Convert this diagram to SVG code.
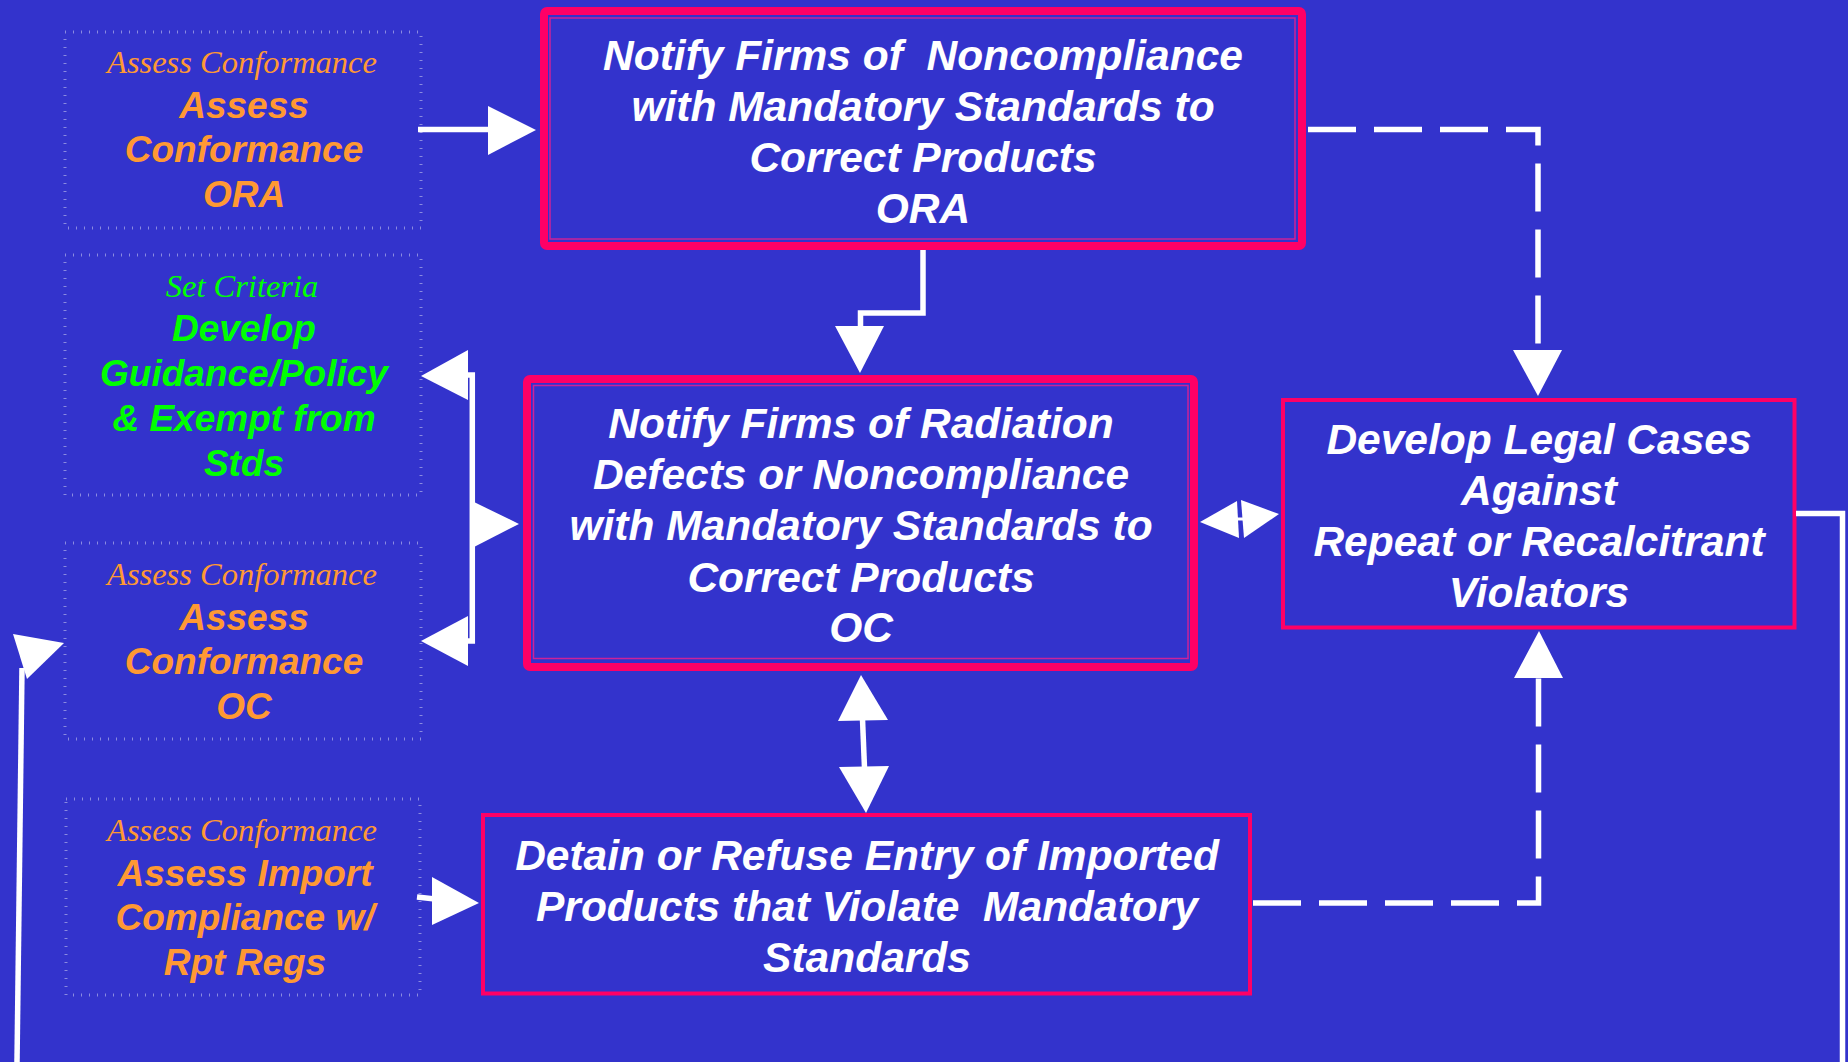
<svg xmlns="http://www.w3.org/2000/svg" width="1848" height="1062" viewBox="0 0 1848 1062">
<style>
.dot{fill:none;stroke:#8A8AE0;stroke-width:3;stroke-dasharray:1 7}
.hd{font-family:"Liberation Serif","Times New Roman",serif;font-style:italic;font-size:32.5px;text-anchor:middle}
.lt{font-family:"Liberation Sans",Arial,sans-serif;font-weight:bold;font-style:italic;font-size:37px;text-anchor:middle}
.mt{font-family:"Liberation Sans",Arial,sans-serif;font-weight:bold;font-style:italic;font-size:42.5px;text-anchor:middle;fill:#FFFFFF}
.or{fill:#FF9933}
.gr{fill:#00FF00}
.box{fill:none;stroke:#FF0066;stroke-width:8}
.inner{fill:none;stroke:#CC2299;stroke-width:1.5}
.box2{fill:none;stroke:#FF0066;stroke-width:4}
.ln{fill:none;stroke:#FFFFFF;stroke-width:5.5}
.dash{fill:none;stroke:#FFFFFF;stroke-width:5.5;stroke-dasharray:48 18}
.ah{fill:#FFFFFF}
</style>
<rect x="0" y="0" width="1848" height="1062" fill="#3333CC"/>

<g id="n-assess-ora">
<rect class="dot" x="65" y="32" width="356" height="196"/>
<text class="hd or" x="242" y="73">Assess Conformance</text>
<text class="lt or" x="244" y="118">Assess</text>
<text class="lt or" x="244" y="162">Conformance</text>
<text class="lt or" x="244" y="207">ORA</text>
</g>

<g id="n-set-criteria">
<rect class="dot" x="65" y="255" width="356" height="240"/>
<text class="hd gr" x="242" y="297">Set Criteria</text>
<text class="lt gr" x="244" y="341">Develop</text>
<text class="lt gr" x="244" y="386">Guidance/Policy</text>
<text class="lt gr" x="244" y="431">&amp; Exempt from</text>
<text class="lt gr" x="244" y="476">Stds</text>
</g>

<g id="n-assess-oc">
<rect class="dot" x="65" y="543" width="356" height="196"/>
<text class="hd or" x="242" y="585">Assess Conformance</text>
<text class="lt or" x="244" y="630">Assess</text>
<text class="lt or" x="244" y="674">Conformance</text>
<text class="lt or" x="244" y="719">OC</text>
</g>

<g id="n-assess-import">
<rect class="dot" x="66" y="799" width="354" height="196"/>
<text class="hd or" x="242" y="841">Assess Conformance</text>
<text class="lt or" x="245" y="886">Assess Import</text>
<text class="lt or" x="245" y="930">Compliance w/</text>
<text class="lt or" x="245" y="975">Rpt Regs</text>
</g>

<g id="n-notify-ora">
<rect class="box" x="544" y="11" width="758" height="235" rx="3"/>
<rect class="inner" x="550" y="18" width="745" height="221"/>
<text class="mt" x="923" y="70" xml:space="preserve">Notify Firms of  Noncompliance</text>
<text class="mt" x="923" y="121">with Mandatory Standards to</text>
<text class="mt" x="923" y="172">Correct Products</text>
<text class="mt" x="923" y="223">ORA</text>
</g>

<g id="n-notify-oc">
<rect class="box" x="527" y="379" width="667" height="288" rx="3"/>
<rect class="inner" x="533.5" y="385.5" width="654.5" height="273"/>
<text class="mt" x="861" y="438">Notify Firms of Radiation</text>
<text class="mt" x="861" y="489">Defects or Noncompliance</text>
<text class="mt" x="861" y="540">with Mandatory Standards to</text>
<text class="mt" x="861" y="592">Correct Products</text>
<text class="mt" x="861" y="642">OC</text>
</g>

<g id="n-legal">
<rect class="box2" x="1283" y="400" width="511.5" height="227.5"/>
<text class="mt" x="1539" y="454">Develop Legal Cases</text>
<text class="mt" x="1539" y="505">Against</text>
<text class="mt" x="1539" y="556">Repeat or Recalcitrant</text>
<text class="mt" x="1539" y="607">Violators</text>
</g>

<g id="n-detain">
<rect class="box2" x="483" y="815" width="767" height="178.5"/>
<text class="mt" x="867" y="870">Detain or Refuse Entry of Imported</text>
<text class="mt" x="867" y="921" xml:space="preserve">Products that Violate  Mandatory</text>
<text class="mt" x="867" y="972">Standards</text>
</g>

<g id="connectors">
<line class="ln" x1="418" y1="129.5" x2="490" y2="129.5"/>
<polygon class="ah" points="488,106 536,130 488,155"/>

<path class="ln" d="M923,250 V313 H860.5 V327"/>
<polygon class="ah" points="835,326 884,326 860,373"/>

<path class="ln" d="M466,375 H472.3 V641 H466"/>
<polygon class="ah" points="421,376 468,350 468,400"/>
<polygon class="ah" points="421,641 468,616 468,666"/>
<polygon class="ah" points="474,502 519,524 474,547"/>

<polygon class="ah" points="1200,522 1237,501 1239,538"/>
<polygon class="ah" points="1241,500 1279,514 1244,538"/>
<line x1="1237" y1="519" x2="1243" y2="519" stroke="#FFFFFF" stroke-width="3"/>

<polygon class="ah" points="861,675 838,721 888,720"/>
<line class="ln" x1="862.5" y1="719" x2="864.5" y2="768"/>
<polygon class="ah" points="839,767 889,766 866,813"/>

<line class="ln" x1="417" y1="897" x2="435" y2="899"/>
<polygon class="ah" points="432,877 479,903 432,925"/>

<path class="dash" d="M1308,129.5 H1538 V352"/>
<polygon class="ah" points="1513,350 1562,350 1538,396"/>

<path class="dash" d="M1253,903 H1538.5 V676"/>
<polygon class="ah" points="1514,678 1563,678 1539,631"/>

<path class="ln" d="M1796,513.5 H1842.5 V1062"/>

<line class="ln" x1="17" y1="1062" x2="22" y2="668"/>
<polygon class="ah" points="13,634 64,643 27,679"/>
</g>
</svg>
